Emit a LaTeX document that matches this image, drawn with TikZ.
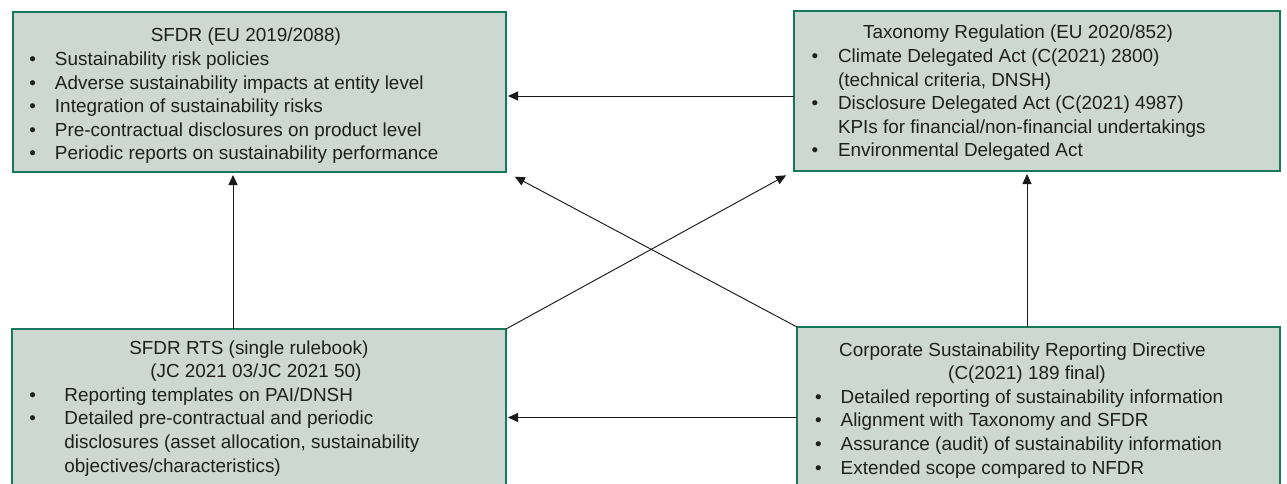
\documentclass[tikz,border=0pt]{standalone}
\usepackage{fontspec}
\setmainfont{Liberation Sans}
\usetikzlibrary{arrows.meta}
\definecolor{boxfill}{RGB}{205,216,210}
\definecolor{boxline}{RGB}{23,120,92}
\definecolor{arrcol}{RGB}{26,26,26}
\newcommand{\mybul}[1]{\makebox[#1][l]{•}}
\tikzset{
  box/.style={draw=boxline, fill=boxfill, line width=1.8pt, rectangle, inner sep=0pt, outer sep=0pt, anchor=north west},
  txt/.style={anchor=base west, inner sep=0pt, outer sep=0pt, font=\fontsize{18.9pt}{23.6pt}\selectfont, text=black!88},
  arr/.style={draw=arrcol, line width=0.95pt, -{Triangle[length=10pt,width=9pt]}}
}
\begin{document}
\begin{tikzpicture}[x=1pt,y=-1pt]
\clip (0,0) rectangle (1287,484);
% boxes
\node[box, minimum width=493pt, minimum height=160pt] (tl) at (13,12) {};
\node[box, minimum width=486pt, minimum height=160pt] (tr) at (794,11) {};
\node[box, minimum width=494pt, minimum height=180pt] (bl) at (12,329) {};
\node[box, minimum width=483pt, minimum height=180pt] (br) at (797,327) {};
% texts
\node[txt] (tltext) at (29.4,42) {\begin{tabular}[t]{@{}l@{}}
\makebox[433pt][c]{SFDR (EU 2019/2088)}\\
\mybul{25.6pt}Sustainability risk policies\\
\mybul{25.6pt}Adverse sustainability impacts at entity level\\
\mybul{25.6pt}Integration of sustainability risks\\
\mybul{25.6pt}Pre-contractual disclosures on product level\\
\mybul{25.6pt}Periodic reports on sustainability performance
\end{tabular}};
\node[txt] (trtext) at (811.7,39) {\begin{tabular}[t]{@{}l@{}}
\makebox[412.6pt][c]{Taxonomy Regulation (EU 2020/852)}\\
\mybul{26.3pt}Climate Delegated Act (C(2021) 2800)\\
\hspace*{26.3pt}(technical criteria, DNSH)\\
\mybul{26.3pt}Disclosure Delegated Act (C(2021) 4987)\\
\hspace*{26.3pt}KPIs for financial/non-financial undertakings\\
\mybul{26.3pt}Environmental Delegated Act
\end{tabular}};
\node[txt] (bltext) at (29.4,354) {\begin{tabular}[t]{@{}l@{}}
\makebox[439pt][c]{SFDR RTS (single rulebook)}\\
\makebox[453pt][c]{(JC 2021 03/JC 2021 50)}\\
\mybul{35pt}Reporting templates on PAI/DNSH\\
\mybul{35pt}Detailed pre-contractual and periodic\\
\hspace*{35pt}disclosures (asset allocation, sustainability\\
\hspace*{35pt}objectives/characteristics)
\end{tabular}};
\node[txt] (brtext) at (815,356) {\begin{tabular}[t]{@{}l@{}}
\makebox[415pt][c]{Corporate Sustainability Reporting Directive}\\
\makebox[424pt][c]{(C(2021) 189 final)}\\
\mybul{25.7pt}Detailed reporting of sustainability information\\
\mybul{25.7pt}Alignment with Taxonomy and SFDR\\
\mybul{25.7pt}Assurance (audit) of sustainability information\\
\mybul{25.7pt}Extended scope compared to NFDR
\end{tabular}};
% connectors
\coordinate (a1) at ([yshift=-5pt]tr.west);
\draw[arr, shorten >=2pt] (a1) -- (a1 -| tl.east);
\coordinate (a4) at ([yshift=-0.5pt]br.west);
\draw[arr, shorten >=2pt] (a4) -- (a4 -| bl.east);
\draw[arr, shorten >=3pt] ([xshift=-26pt]bl.north) -- ([xshift=-26.5pt]tl.south);
\draw[arr, shorten >=3pt] ([xshift=-11.5pt]br.north) -- ([xshift=-10pt]tr.south);
\draw[arr, shorten >=9pt] (bl.north east) -- (tr.south west);
\draw[arr, shorten >=10pt] (br.north west) -- (tl.south east);
\end{tikzpicture}
\end{document}
